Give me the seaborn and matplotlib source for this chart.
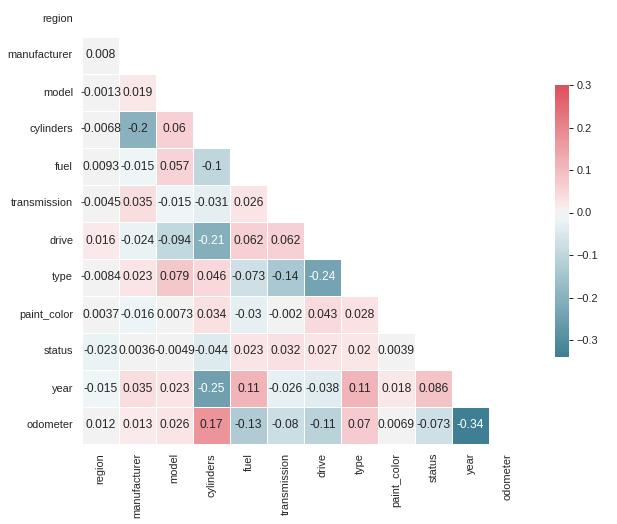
import colorsys
import numpy as np
import pandas as pd
import matplotlib
matplotlib.use("Agg")
import matplotlib.pyplot as plt
from matplotlib.colors import LinearSegmentedColormap
import seaborn as sns
from seaborn.external import husl

sns.set_theme(style="white")
plt.rcParams['font.family'] = ['Liberation Sans', 'DejaVu Sans']

labels = ['region', 'manufacturer', 'model', 'cylinders', 'fuel', 'transmission',
          'drive', 'type', 'paint_color', 'status', 'year', 'odometer']

# lower triangle of the correlation matrix, row by row
r_manufacturer = [0.008]
r_model = [-0.0013, 0.019]
r_cylinders = [-0.0068, -0.2, 0.06]
r_fuel = [0.0093, -0.015, 0.057, -0.1]
r_transmission = [-0.0045, 0.035, -0.015, -0.031, 0.026]
r_drive = [0.016, -0.024, -0.094, -0.21, 0.062, 0.062]
r_type = [-0.0084, 0.023, 0.079, 0.046, -0.073, -0.14, -0.24]
r_paint_color = [0.0037, -0.016, 0.0073, 0.034, -0.03, -0.002, 0.043, 0.028]
r_status = [-0.023, 0.0036, -0.0049, -0.044, 0.023, 0.032, 0.027, 0.02, 0.0039]
r_year = [-0.015, 0.035, 0.023, -0.25, 0.11, -0.026, -0.038, 0.11, 0.018, 0.086]
r_odometer = [0.012, 0.013, 0.026, 0.17, -0.13, -0.08, -0.11, 0.07, 0.0069, -0.073, -0.34]

rows = [[], r_manufacturer, r_model, r_cylinders, r_fuel, r_transmission, r_drive,
        r_type, r_paint_color, r_status, r_year, r_odometer]

n = len(labels)
mat = np.eye(n)
for i, row in enumerate(rows):
    for j, v in enumerate(row):
        mat[i, j] = v
        mat[j, i] = v
corr = pd.DataFrame(mat, index=labels, columns=labels)

mask = np.triu(np.ones_like(corr, dtype=bool))


# old-style seaborn diverging palette (220, 10): light ends keep full saturation
def light_end(h):
    rgb = husl.husl_to_rgb(h, 75, 50)
    hh, ll, ss = colorsys.rgb_to_hls(*rgb)
    return rgb, colorsys.hls_to_rgb(hh, .95, ss)


neg_dark, neg_light = light_end(220)
pos_dark, pos_light = light_end(10)
n_half = 123
neg = [tuple(np.array(neg_dark) + (np.array(neg_light) - np.array(neg_dark)) * t)
       for t in np.linspace(0, 1, n_half)]
pos = [tuple(np.array(pos_light) + (np.array(pos_dark) - np.array(pos_light)) * t)
       for t in np.linspace(0, 1, n_half)]
mid = [(.95, .95, .95)] * 10
cmap = LinearSegmentedColormap.from_list("div", neg + mid + pos)

fig = plt.figure(figsize=(617 / 72, 524 / 72), dpi=72)
ax = fig.add_axes([82 / 617, 80 / 524, 444 / 617, 444 / 524])
cax = fig.add_axes([555 / 617, 167 / 524, 14 / 617, 272 / 524])

sns.heatmap(corr, mask=mask, cmap=cmap, vmax=.3, center=0, square=True,
            linewidths=.5, annot=True, ax=ax, cbar_ax=cax,
            annot_kws={"size": 12})

# only the darkest cells get white text in the original
for t in ax.texts:
    val = float(t.get_text().replace('\u2212', '-'))
    if val <= -0.205:
        t.set_color('white')
    else:
        t.set_color('#262626')

ax.tick_params(axis='both', length=0, labelsize=11, pad=9)
ax.set_xticklabels(labels, rotation=90)
ax.set_yticklabels(labels, rotation=0)
cax.tick_params(right=True, length=4, width=1, color='.15', labelsize=11)
cax.set_yticks([-0.3, -0.2, -0.1, 0.0, 0.1, 0.2, 0.3])

fig.savefig("out.png", dpi=72)
